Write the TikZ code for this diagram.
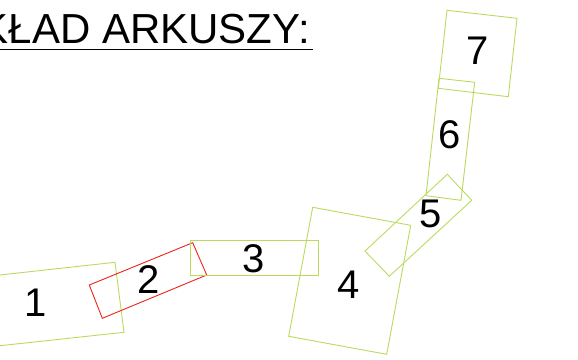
\documentclass[tikz,border=0pt]{standalone}
\usepackage{fontspec}
\setmainfont{Liberation Sans}
\definecolor{sheet}{RGB}{185,218,95}
\definecolor{sel}{RGB}{236,36,24}
\begin{document}
\begin{tikzpicture}[x=1pt,y=-1pt,
  sheetbox/.style={draw=sheet,line width=0.9pt},
  selbox/.style={draw=sel,line width=0.9pt},
  num/.style={font=\fontsize{40}{40}\selectfont,inner sep=0pt},
  title/.style={font=\fontsize{42}{42}\selectfont,inner sep=0pt,anchor=base east}]
\useasboundingbox (0,0) rectangle (578,359);
\clip (0,0) rectangle (578,359);
% title
\node[title] (t) at (310,43) {KŁAD ARKUSZY:};
\draw[line width=1.3pt] (0,49.5) -- (313,49.5);
% sheets
\draw[sheetbox] (-60,281.6) -- (115,262.3) -- (124,332.3) -- (-60,352.2) -- cycle;
\draw[selbox] (89.3,285) -- (192.7,242.7) -- (206.7,275) -- (102.3,318.3) -- cycle;
\draw[sheetbox] (190.3,240.3) rectangle (318.3,275);
\draw[sheetbox] (312.7,207.3) -- (410.7,225.3) -- (386.7,354.3) -- (288.7,336.3) -- cycle;
\draw[sheetbox] (447.3,174.3) -- (471.7,200.3) -- (389.3,276.3) -- (365,251) -- cycle;
\draw[sheetbox] (439,78.3) -- (474.7,82.3) -- (461,200.3) -- (426,195.7) -- cycle;
\draw[sheetbox] (447,10.3) -- (517,18.3) -- (508.3,96.7) -- (438.3,88.3) -- cycle;
% labels
\node[num] (n1) at (36,302.5) {1};
\node[num] (n2) at (149,280) {2};
\node[num] (n3) at (254,258.5) {3};
\node[num] (n4) at (348.5,285) {4};
\node[num] (n5) at (431,214) {5};
\node[num] (n6) at (450,135) {6};
\node[num] (n7) at (478,51) {7};
\end{tikzpicture}
\end{document}
